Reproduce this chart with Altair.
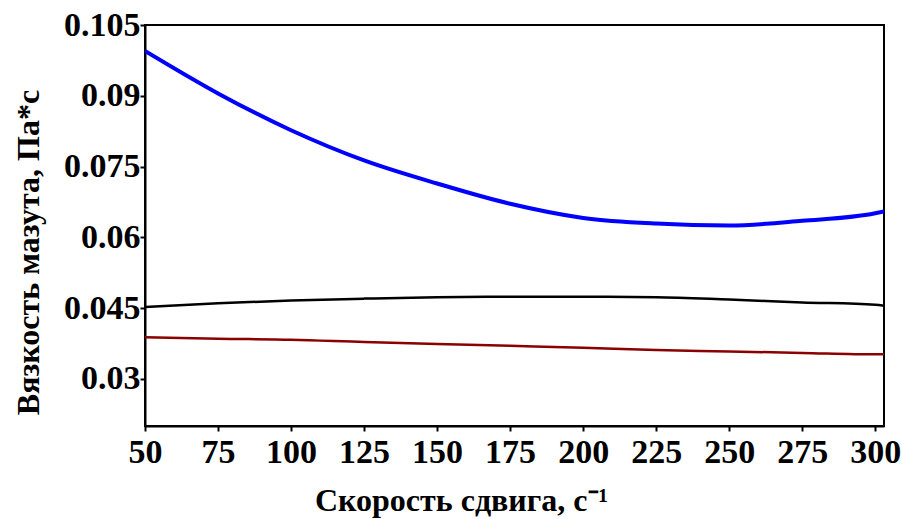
import altair as alt
import pandas as pd

# Shear rate, 1/s
shear_rate = [50, 75, 100, 125, 150, 175, 200, 225, 250, 275, 300, 303]

# Viscosity, Pa*s
visc_blue = [0.0995, 0.0905, 0.0827, 0.0763, 0.0714, 0.0671, 0.0641, 0.0629, 0.0625, 0.0635, 0.0651, 0.0655]
visc_black = [0.0452, 0.0460, 0.0466, 0.0470, 0.0473, 0.0474, 0.0474, 0.0473, 0.0468, 0.0462, 0.0457, 0.0455]
visc_red = [0.0388, 0.0385, 0.0383, 0.0378, 0.0374, 0.0370, 0.0366, 0.0361, 0.0358, 0.0355, 0.0352, 0.0352]

series_names = ["Кривая 1", "Кривая 2", "Кривая 3"]
series_colors = ["#0000ff", "#000000", "#8b0000"]
series_widths = [4.0, 2.5, 2.5]

rows = []
for name, vals, w in zip(series_names, [visc_blue, visc_black, visc_red], series_widths):
    for x, y in zip(shear_rate, vals):
        rows.append({"shear": x, "visc": y, "series": name, "w": w})
df = pd.DataFrame(rows)

FONT = "Liberation Serif"

chart = alt.Chart(df).mark_line(interpolate="monotone", clip=True).encode(
    x=alt.X("shear:Q",
            scale=alt.Scale(domain=[50, 303], nice=False, zero=False),
            axis=alt.Axis(values=[50, 75, 100, 125, 150, 175, 200, 225, 250, 275, 300],
                          title="Скорость сдвига, с⁻¹",
                          titleX=316, titleY=84, titleAlign="center", titleBaseline="alphabetic",
                          titleFontSize=32,
                          labelPadding=4, tickSize=5)),
    y=alt.Y("visc:Q",
            scale=alt.Scale(domain=[0.02, 0.105], nice=False, zero=False),
            axis=alt.Axis(values=[0.03, 0.045, 0.06, 0.075, 0.09, 0.105],
                          labelExpr="replace(format(datum.value, '.3f'), /0+$/, '')",
                          title="Вязкость мазута, Па*с",
                          titleX=-117, titleY=227, titleAngle=-90,
                          titleAlign="center", titleBaseline="middle",
                          titleFontSize=32,
                          labelPadding=0, tickSize=5)),
    color=alt.Color("series:N", scale=alt.Scale(domain=series_names, range=series_colors), legend=None),
    strokeWidth=alt.StrokeWidth("w:Q", scale=None),
).properties(
    width=739, height=401,
    background="white",
    autosize=alt.AutoSizeParams(type="none"),
    padding={"left": 145, "top": 25, "right": 18, "bottom": 93},
).configure_view(
    stroke="black", strokeWidth=2
).configure_axis(
    labelFont=FONT, labelFontSize=34, labelFontWeight="bold", labelColor="black",
    titleFont=FONT, titleFontWeight="bold", titleColor="black",
    domainColor="black", domainWidth=2, tickColor="black", tickWidth=2,
    grid=False, labelFlush=False, labelOverlap=False,
)

chart.save("out.html", embed_options={"renderer": "svg", "actions": False})
